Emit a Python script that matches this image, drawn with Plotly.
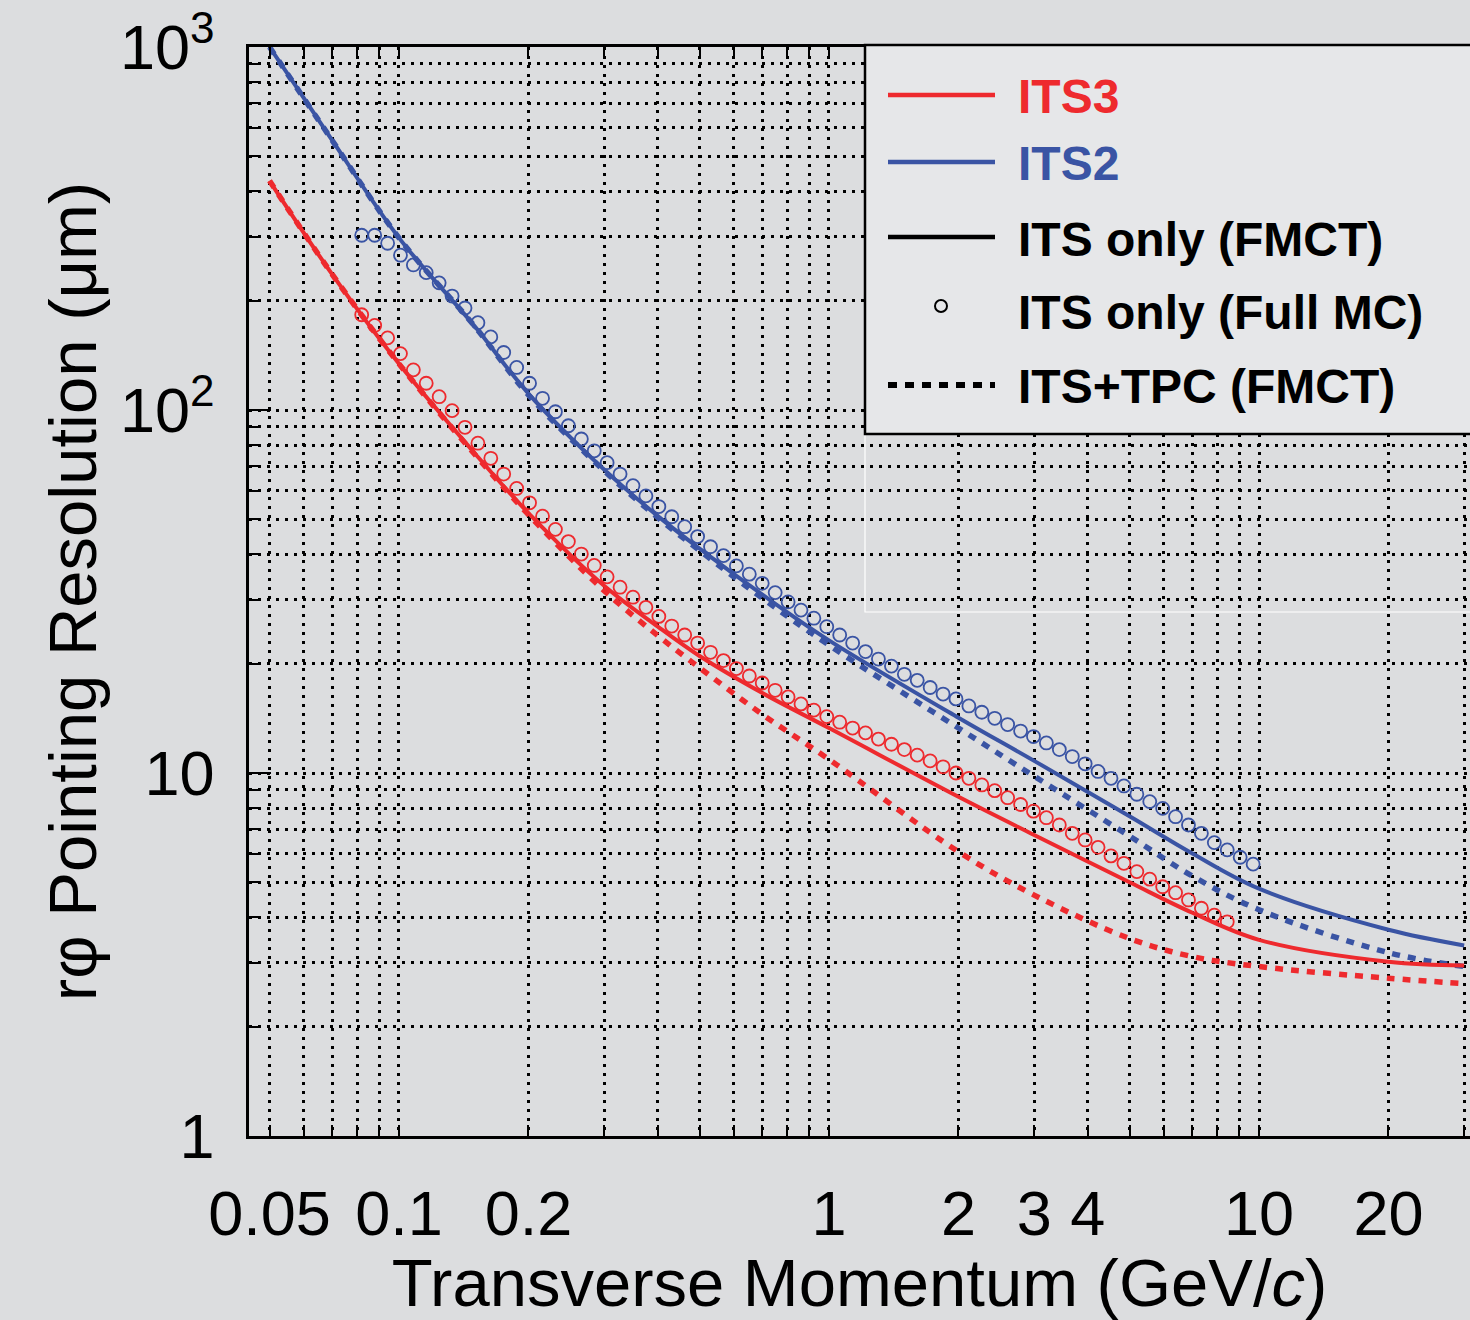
import plotly.graph_objects as go

# ---------------- data ----------------
pt_line = [0.05, 0.07, 0.1, 0.15, 0.2, 0.3, 0.4, 0.5, 0.7, 1, 2, 3, 5, 7, 10, 20, 30]
its2_fmct = [1000, 552, 298, 170, 111, 68.5, 51, 41.5, 31, 23.2, 14.2, 10.8, 7.6, 6.0, 4.8, 3.7, 3.35]
its2_tpc = [1000, 552, 298, 170, 110, 68, 50.5, 41, 30.3, 22.5, 13.3, 9.8, 6.7, 5.2, 4.2, 3.2, 2.93]
its3_fmct = [428, 236, 134, 76, 52, 32.8, 25.3, 21.0, 16.6, 13.3, 8.6, 6.75, 5.0, 4.12, 3.47, 3.02, 2.95]
its3_tpc = [428, 236, 134, 75.5, 51.5, 31.8, 23.9, 19.5, 14.5, 10.9, 6.07, 4.61, 3.5, 3.12, 2.93, 2.72, 2.63]

pt_fullmc = [0.0819, 0.0878, 0.0941, 0.1008, 0.1080, 0.1157, 0.1240, 0.1329, 0.1424, 0.1526,
             0.1635, 0.1752, 0.1878, 0.2012, 0.2157, 0.2311, 0.2477, 0.2655, 0.2845, 0.3048,
             0.3267, 0.3501, 0.3752, 0.4021, 0.4309, 0.4618, 0.4949, 0.5303, 0.5683, 0.6090,
             0.6527, 0.6994, 0.7496, 0.8033, 0.8608, 0.9222, 0.9881, 1.059, 1.135, 1.216,
             1.303, 1.397, 1.497, 1.604, 1.719, 1.842, 1.974, 2.115, 2.267, 2.429,
             2.603, 2.790, 2.989, 3.203, 3.433, 3.679, 3.942, 4.224, 4.527, 4.851,
             5.199, 5.571, 5.970, 6.397, 6.855, 7.346, 7.872, 8.437, 9.041, 9.690]
its2_fullmc = [303, 303, 288, 267, 251, 239, 224, 206, 191, 174,
               159, 144, 131, 118.5, 107.7, 98.9, 90.5, 83.2, 77.2, 71.6,
               66.6, 61.9, 58.0, 54.2, 50.8, 47.7, 44.8, 42.0, 39.7, 37.2,
               35.3, 33.3, 31.4, 29.6, 28.1, 26.7, 25.3, 24.0, 22.8, 21.6,
               20.6, 19.7, 18.7, 18.0, 17.2, 16.5, 16.0, 15.3, 14.7, 14.15,
               13.6, 13.05, 12.6, 12.1, 11.6, 11.1, 10.6, 10.1, 9.67, 9.21,
               8.74, 8.34, 7.99, 7.58, 7.19, 6.82, 6.43, 6.14, 5.86, 5.61]
its3_fullmc = [183, 171, 158, 143, 129, 118.5, 108.8, 99.6, 89.6, 81.0,
               73.6, 66.6, 60.8, 55.5, 51.0, 46.9, 43.4, 40.1, 37.3, 34.7,
               32.5, 30.5, 28.6, 27.0, 25.4, 24.0, 22.8, 21.5, 20.4, 19.4,
               18.5, 17.7, 16.9, 16.2, 15.5, 14.9, 14.3, 13.8, 13.3, 12.9,
               12.4, 12.0, 11.6, 11.2, 10.8, 10.4, 10.0, 9.67, 9.27, 8.94,
               8.55, 8.19, 7.85, 7.53, 7.19, 6.82, 6.54, 6.24, 5.91, 5.64,
               5.35, 5.10, 4.86, 4.68, 4.47, 4.24, 4.06, 3.89]

x_tickvals = [0.05, 0.1, 0.2, 1, 2, 3, 4, 10, 20]
x_ticktext = ["0.05", "0.1", "0.2", "1", "2", "3", "4", "10", "20"]
x_minorvals = [0.06, 0.07, 0.08, 0.09, 0.3, 0.4, 0.5, 0.6, 0.7, 0.8, 0.9,
               5, 6, 7, 8, 9, 30]
x_majorvals = [0.1, 1, 10]
y_tickvals = [1, 10, 100, 1000]
y_ticktext = ["1", "10", "10<sup>2</sup>", "10<sup>3</sup>"]
y_minorvals = [2, 3, 4, 5, 6, 7, 8, 9, 20, 30, 40, 50, 60, 70, 80, 90,
               200, 300, 400, 500, 600, 700, 800, 900]

legend_labels = ["ITS3", "ITS2", "ITS only (FMCT)", "ITS only (Full MC)", "ITS+TPC (FMCT)"]

# ---------------- style ----------------
RED = "#ee2a2e"
BLUE = "#3a54a4"
BG = "#dcdddf"
LEGBG = "#e6e7e9"
FONT = "Liberation Sans, Arial, Helvetica, sans-serif"
GRID = dict(showgrid=True, gridcolor="black", gridwidth=2.5, griddash="3px,6px")
DOT = "8px,8px"

fig = go.Figure()

fig.add_trace(go.Scatter(x=pt_line, y=its2_tpc, mode="lines",
                         line=dict(color=BLUE, width=5.5, dash=DOT, shape="spline")))
fig.add_trace(go.Scatter(x=pt_line, y=its3_tpc, mode="lines",
                         line=dict(color=RED, width=5.5, dash=DOT, shape="spline")))
fig.add_trace(go.Scatter(x=pt_line, y=its2_fmct, mode="lines",
                         line=dict(color=BLUE, width=4, shape="spline")))
fig.add_trace(go.Scatter(x=pt_line, y=its3_fmct, mode="lines",
                         line=dict(color=RED, width=4, shape="spline")))
fig.add_trace(go.Scatter(x=pt_fullmc, y=its2_fullmc, mode="markers",
                         marker=dict(symbol="circle-open", size=13, color=BLUE,
                                     line=dict(width=1.8, color=BLUE))))
fig.add_trace(go.Scatter(x=pt_fullmc, y=its3_fullmc, mode="markers",
                         marker=dict(symbol="circle-open", size=13, color=RED,
                                     line=dict(width=1.8, color=RED))))

XR = [-1.3488, 1.4907]
YR = [0, 3]

fig.update_layout(
    width=1470, height=1320,
    margin=dict(l=249, r=0, t=47, b=184),
    paper_bgcolor=BG, plot_bgcolor=BG,
    showlegend=False,
    font=dict(family=FONT, color="black"),
    xaxis=dict(
        type="log", range=XR, showline=True, linecolor="black", linewidth=2.5,
        mirror="ticks", ticks="inside", ticklen=11, tickwidth=2, tickcolor="black",
        tickmode="array", tickvals=x_tickvals, ticktext=x_ticktext,
        tickfont=dict(family=FONT, size=63, color="black"), ticklabelstandoff=21,
        zeroline=False, **GRID,
        minor=dict(tickmode="array", tickvals=x_minorvals, ticks="inside", ticklen=11,
                   tickwidth=2, tickcolor="black", **GRID),
        title=dict(text="Transverse Momentum (GeV/<i>c</i>)",
                   font=dict(family=FONT, size=67, color="black"), standoff=15),
    ),
    xaxis2=dict(
        type="log", range=XR, overlaying="x", side="bottom", anchor="y",
        showline=False, showgrid=False, zeroline=False, mirror="ticks",
        ticks="inside", ticklen=23, tickwidth=2, tickcolor="black",
        tickmode="array", tickvals=x_majorvals, showticklabels=False,
    ),
    yaxis=dict(
        type="log", range=YR, showline=True, linecolor="black", linewidth=2.5,
        ticks="inside", ticklen=22, tickwidth=2, tickcolor="black",
        tickmode="array", tickvals=y_tickvals, ticktext=y_ticktext,
        tickfont=dict(family=FONT, size=63, color="black"), ticklabelstandoff=19,
        zeroline=False, **GRID,
        minor=dict(tickmode="array", tickvals=y_minorvals, ticks="inside", ticklen=11,
                   tickwidth=2, tickcolor="black", **GRID),
        title=dict(text="rφ Pointing Resolution (μm)",
                   font=dict(family=FONT, size=67, color="black"), standoff=2),
    ),
)

# ---------------- legend (drawn box) ----------------
PX0, PW, PY0, PH = 249, 1221, 1136, 1089


def px(xp):
    return (xp - PX0) / PW


def py(yp):
    return (PY0 - yp) / PH


shapes = []
shapes.append(dict(type="rect", xref="paper", yref="paper", x0=px(865), x1=1.02,
                   y0=py(612), y1=py(434), line=dict(color="white", width=1.2),
                   fillcolor="rgba(0,0,0,0)", layer="below"))
shapes.append(dict(type="rect", xref="paper", yref="paper", x0=px(865), x1=1.02,
                   y0=py(434), y1=py(45), line=dict(color="black", width=2.5),
                   fillcolor=LEGBG, layer="above"))
rows_y = [95, 162, 237, 310, 385]
sample_styles = [
    dict(color=RED, width=4.5),
    dict(color=BLUE, width=4.5),
    dict(color="black", width=4.5),
    None,
    dict(color="black", width=6, dash="9px,8px"),
]
for yy, st in zip(rows_y, sample_styles):
    if st is None:
        continue
    shapes.append(dict(type="line", xref="paper", yref="paper", x0=px(888), x1=px(995),
                       y0=py(yy), y1=py(yy), line=st, layer="above"))
shapes.append(dict(type="circle", xref="paper", yref="paper",
                   xsizemode="pixel", ysizemode="pixel",
                   xanchor=px(941), yanchor=py(306), x0=-6, x1=6, y0=-6, y1=6,
                   line=dict(color="black", width=2), fillcolor="rgba(0,0,0,0)",
                   layer="above"))
fig.update_layout(shapes=shapes)

label_colors = [RED, BLUE, "black", "black", "black"]
for lab, yy, col in zip(legend_labels, rows_y, label_colors):
    fig.add_annotation(xref="paper", yref="paper", x=px(1016), y=py(yy + 2),
                       xanchor="left", yanchor="middle", showarrow=False, text=lab,
                       font=dict(family=FONT, size=48, color=col, weight="bold"))

fig.write_html("out.html", config={"displayModeBar": False},
               post_script="document.body.style.margin='0px';"
                           "document.body.style.overflow='hidden';")
